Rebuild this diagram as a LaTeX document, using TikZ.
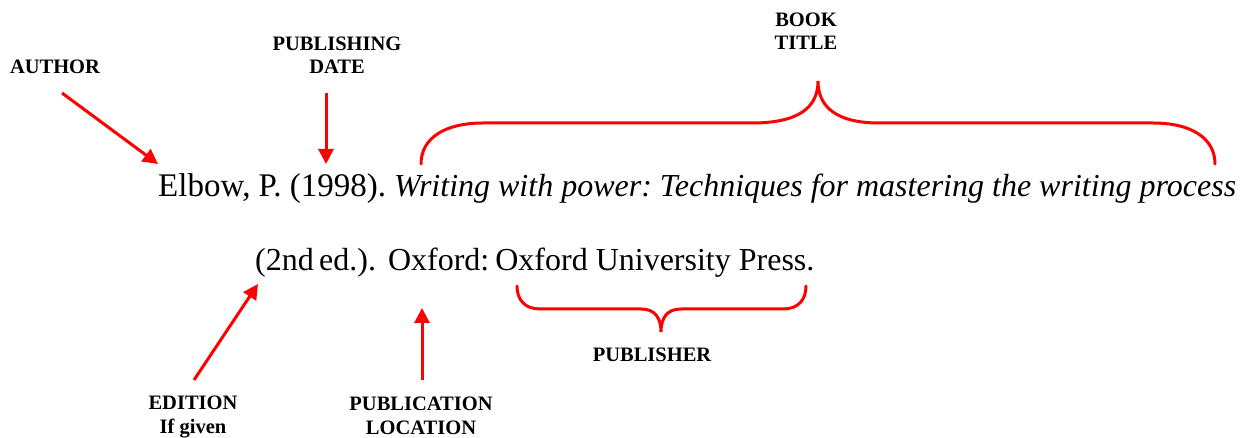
\documentclass[tikz,border=0pt]{standalone}
\usepackage{fontspec}
\setmainfont{Liberation Serif}
\usetikzlibrary{arrows.meta}
\begin{document}
\frenchspacing
\begin{tikzpicture}[x=1pt,y=-1pt,
  lbl/.style={font=\fontsize{20.5}{23.5}\selectfont\bfseries, align=center, inner sep=0pt, anchor=base},
  txt/.style={font=\fontsize{32}{38}\selectfont, inner sep=0pt, anchor=base west},
  arr/.style={draw=red, line width=3pt, -{Triangle[length=15pt,width=15pt]}},
  brc/.style={draw=red, line width=3pt, line cap=round}]
\useasboundingbox (0,0) rectangle (1243,438);
% reference text
\node[txt] (line1) at (158,197) {{\fontsize{33}{38}\selectfont Elbow, P. (1998).} \textit{Writing with power: Techniques for mastering the writing process}};
\node[txt] (line2) at (255,271) {(2nd\,ed.).\hspace{12pt}Oxford:\hspace{6pt}Oxford University Press.};
% labels (anchor = baseline of last line)
\node[lbl] (author) at (55,74) {AUTHOR};
\node[lbl] (pubdate) at (337,74) {PUBLISHING\\DATE};
\node[lbl] (title) at (806,50) {BOOK\\TITLE};
\node[lbl] (publisher) at (652,362) {PUBLISHER};
\node[lbl] (edition) at (193,433) {EDITION\\If given};
\node[lbl] (location) at (421,434) {PUBLICATION\\LOCATION};
% arrow endpoints
\coordinate (authorT) at (62,93);   \coordinate (authorH) at (158,164);
\coordinate (dateT) at (326,93);    \coordinate (dateH) at (326,164);
\coordinate (editionT) at (194,380);\coordinate (editionH) at (258,284);
\coordinate (locT) at (422,380);    \coordinate (locH) at (422,308);
\draw[arr] (authorT) -- (authorH);
\draw[arr] (dateT) -- (dateH);
\draw[arr] (editionT) -- (editionH);
\draw[arr] (locT) -- (locH);
% braces
\coordinate (tb1) at (421,164); \coordinate (tbtip) at (818,81); \coordinate (tb2) at (1215,164);
\draw[brc] (tb1) .. controls (421,138) and (445,123) .. (483,123) -- (752,123)
  .. controls (798,123) and (818,108) .. (tbtip)
  .. controls (818,108) and (838,123) .. (879,123) -- (1153,123)
  .. controls (1191,123) and (1215,138) .. (tb2);
\coordinate (pb1) at (517,286); \coordinate (pbtip) at (661,332); \coordinate (pb2) at (806,286);
\draw[brc] (pb1) .. controls (517,300) and (525,309) .. (540,309) -- (641,309)
  .. controls (655,309) and (661,318) .. (pbtip)
  .. controls (661,318) and (667,309) .. (681,309) -- (783,309)
  .. controls (798,309) and (806,300) .. (pb2);
\end{tikzpicture}
\end{document}
